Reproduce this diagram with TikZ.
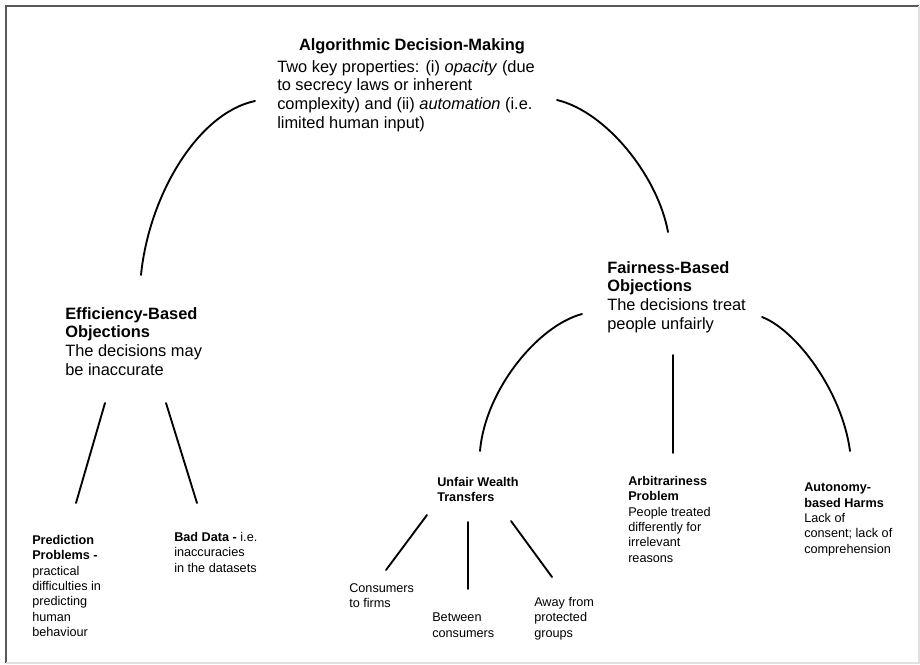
\documentclass[tikz,border=0pt]{standalone}
\usepackage{fontspec}
\setmainfont{Liberation Sans}

\begin{document}
\begin{tikzpicture}
	[
		x=0.75pt, y=-0.75pt,
		B/.style = {rectangle, align=left, draw=none, fill=none, inner sep=0pt, anchor=north west, font=\fontsize{12.3}{14.1}\selectfont},
		S/.style = {rectangle, align=left, draw=none, fill=none, inner sep=0pt, anchor=north west, font=\fontsize{9.5}{11.5}\selectfont},
		E/.style = {line width=1.4pt, line cap=round},
	]

	\useasboundingbox (0,0) rectangle (920,664);

	% frame
	\draw[black!65, line width=1pt] (6,663) -- (6,6) -- (919,6);
	\draw[black!12, line width=0.8pt] (919,6) -- (919,663) -- (6,663);

	% root
	\node[B, anchor=north] (adm) 	at (412, 38) {\textbf{Algorithmic Decision-Making}};
	\node[B] (admtxt) 	at (277, 60) {Two key properties: (i) \textit{opacity} (due\\to secrecy laws or inherent\\complexity) and (ii) \textit{automation} (i.e.\\limited human input)};

	% objections
	\node[B] (eff) 	at ( 65,307) {\textbf{Efficiency-Based}\\\textbf{Objections}\\The decisions may\\be inaccurate};
	\node[B] (fair) 	at (607,261) {\textbf{Fairness-Based}\\\textbf{Objections}\\The decisions treat\\people unfairly};

	% efficiency leaves
	\node[S] (pred) 	at ( 32,535) {\textbf{Prediction}\\\textbf{Problems -}\\practical\\difficulties in\\predicting\\human\\behaviour};
	\node[S] (bad) 	at (174,532) {\textbf{Bad Data -} i.e.\\inaccuracies\\in the datasets};

	% fairness leaves
	\node[S] (uwt) 	at (437,477) {\textbf{Unfair Wealth}\\\textbf{Transfers}};
	\node[S] (arb) 	at (628,476) {\textbf{Arbitrariness}\\\textbf{Problem}\\People treated\\differently for\\irrelevant\\reasons};
	\node[S] (auto) 	at (804,483) {\textbf{Autonomy-}\\\textbf{based Harms}\\Lack of\\consent; lack of\\comprehension};

	% wealth transfer leaves
	\node[S] (ctf) 	at (349,583) {Consumers\\to firms};
	\node[S] (btw) 	at (432,613) {Between\\consumers};
	\node[S] (away) 	at (534,597) {Away from\\protected\\groups};

	% line ends
	\coordinate (adm-l) 	at (255,101);
	\coordinate (adm-r) 	at (557,100);
	\coordinate (eff-t) 	at (141,275);
	\coordinate (fair-t) 	at (668,232);
	\coordinate (fair-l) 	at (582,314);
	\coordinate (fair-m) 	at (673,355);
	\coordinate (fair-r) 	at (762,317);
	\coordinate (uwt-t) 	at (480,451);
	\coordinate (arb-t) 	at (673,453);
	\coordinate (auto-t) 	at (850,451);
	\coordinate (eff-l) 	at (105,403);
	\coordinate (eff-r) 	at (166,403);
	\coordinate (pred-t) 	at ( 76,503);
	\coordinate (bad-t) 	at (197,503);
	\coordinate (uwt-l) 	at (427,515);
	\coordinate (uwt-m) 	at (468,522);
	\coordinate (uwt-r) 	at (511,521);
	\coordinate (ctf-t) 	at (386,570);
	\coordinate (btw-t) 	at (468,589);
	\coordinate (away-t) 	at (552,577);

	% arcs
	\draw[E] (adm-l) .. controls (198,113) and (149,195) .. (eff-t);
	\draw[E] (adm-r) .. controls (607,112) and (658,177) .. (fair-t);
	\draw[E] (fair-l) .. controls (537,326) and (485,391) .. (uwt-t);
	\draw[E] (fair-r) .. controls (796,330) and (842,391) .. (auto-t);

	\foreach \from/\to in {fair-m/arb-t,eff-l/pred-t,eff-r/bad-t,uwt-l/ctf-t,uwt-m/btw-t,uwt-r/away-t}
	\draw[E] (\from) -- (\to);

\end{tikzpicture}
\end{document}
